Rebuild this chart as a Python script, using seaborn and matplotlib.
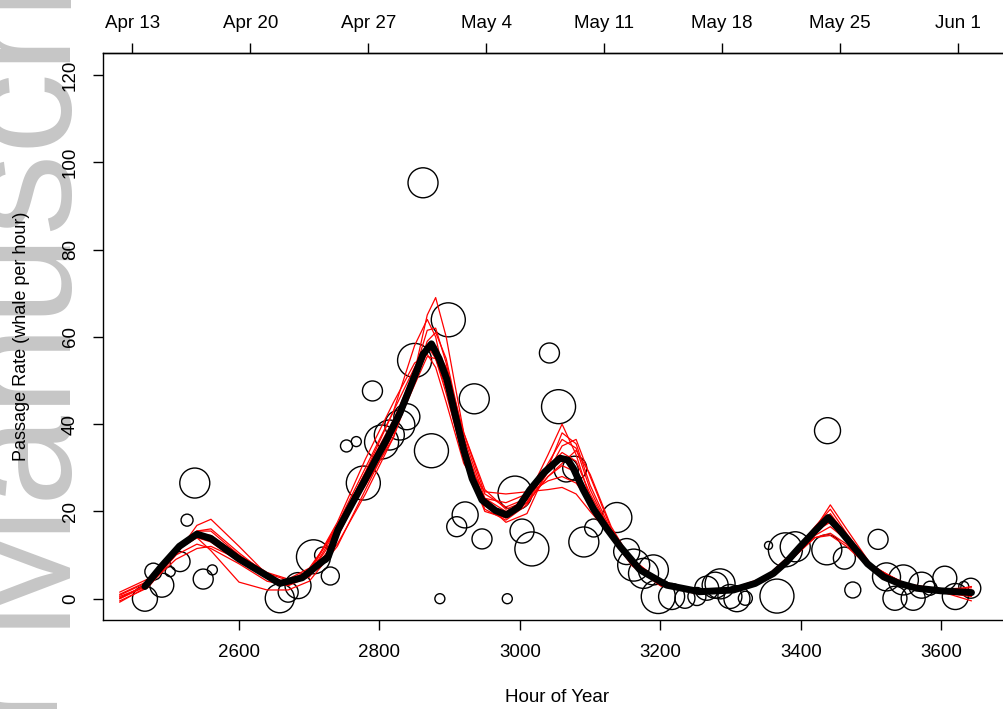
import numpy as np
import pandas as pd
import matplotlib
matplotlib.use("Agg")
import matplotlib.pyplot as plt
import seaborn as sns

# ---------------- data ----------------
obs_hour = [2466, 2478, 2490, 2502, 2516, 2526, 2537, 2549, 2562,
            2658, 2670, 2684, 2706, 2719, 2730,
            2753, 2767, 2777, 2790, 2803, 2814, 2829, 2839, 2850, 2862, 2874,
            2886, 2898, 2910, 2922, 2935, 2946, 2982, 2993, 3003, 3017,
            3042, 3055, 3066, 3078, 3091, 3105, 3138, 3152, 3162, 3176, 3190,
            3197, 3216, 3235, 3252, 3266, 3278, 3285, 3299, 3309, 3321,
            3354, 3366, 3378, 3392, 3437, 3438, 3462, 3474, 3510, 3522, 3534,
            3546, 3560, 3572, 3584, 3605, 3620, 3632, 3642]
obs_rate = [0.0, 6.2, 3.1, 6.2, 8.5, 18.0, 26.5, 4.5, 6.6,
            0.1, 1.5, 3.0, 9.6, 10.0, 5.2,
            35.0, 36.0, 26.5, 47.6, 35.9, 37.5, 39.8, 41.7, 54.6, 95.3, 33.9,
            0.0, 63.9, 16.5, 19.2, 45.8, 13.7, 0.0, 24.2, 15.5, 11.4,
            56.3, 44.0, 29.5, 29.9, 13.0, 16.2, 18.6, 10.8, 7.7, 5.8, 6.6,
            0.5, 0.5, 0.1, 0.5, 2.4, 3.1, 3.4, 0.5, 0.0, 0.1,
            12.2, 0.6, 11.2, 11.9, 11.2, 38.5, 9.3, 2.0, 13.6, 5.0, 0.1,
            4.3, 0.1, 3.1, 2.4, 4.7, 0.5, 2.8, 2.4]
obs_weight = [12.5, 8.5, 12, 5, 10, 6, 15, 10, 5,
              14.5, 10, 13, 17, 8, 9,
              6, 5, 17, 10, 17, 15, 15, 13, 17, 15, 17,
              5, 17, 10, 13, 15, 10, 5, 17, 12, 17,
              10, 17, 12, 12, 15, 9, 15, 13, 16, 15, 15,
              17, 13, 10, 9, 12, 13, 15, 12, 13, 7,
              4, 17, 17, 15, 15, 13, 11, 8, 10, 14, 12,
              15, 12, 13, 7, 12, 13, 5, 10]

mean_hour = [2466, 2490, 2515, 2540, 2560, 2600, 2658, 2690, 2727, 2741, 2760,
             2777, 2795, 2810, 2829, 2850, 2862, 2874, 2885, 2896, 2908, 2920,
             2932, 2946, 2965, 2981, 2998, 3014, 3035, 3057, 3068, 3076, 3090,
             3105, 3124, 3143, 3171, 3209, 3256, 3304, 3335, 3361, 3380, 3399,
             3420, 3439, 3455, 3475, 3495, 3518, 3540, 3565, 3600, 3643]
mean_rate = [2.8, 7.5, 12.0, 14.8, 13.8, 9.1, 3.5, 4.8, 9.6, 15.8, 21.5,
             26.5, 32.0, 36.4, 42.5, 51.0, 56.0, 58.4, 55.0, 50.2, 42.0, 34.1,
             27.5, 22.6, 20.2, 19.2, 21.0, 24.9, 29.0, 32.2, 31.8, 29.9, 25.0,
             20.5, 16.0, 11.9, 6.6, 3.1, 1.6, 2.0, 3.5, 5.8, 8.5, 11.9,
             15.5, 18.6, 15.8, 11.9, 8.0, 5.0, 3.5, 2.4, 1.8, 1.4]

boot_hour = [2430, 2470, 2510, 2540, 2560, 2600, 2640, 2670, 2700, 2740, 2780,
             2820, 2850, 2868, 2880, 2895, 2920, 2950, 2980, 3010, 3040, 3060,
             3080, 3100, 3130, 3160, 3200, 3250, 3300, 3350, 3390, 3420, 3442,
             3465, 3500, 3550, 3600, 3643]
boot_1 = [0.0, 3.0, 10.5, 15.5, 16.0, 10.5, 5.5, 3.5, 5.0, 12.5, 24.0, 37.0, 52.0, 65.0, 69.0, 60.0, 38.0, 24.0, 21.0, 23.0, 33.0, 40.0, 33.0, 23.0, 14.0, 8.0, 3.5, 1.5, 1.8, 4.5, 10.5, 16.5, 20.5, 15.0, 7.5, 3.0, 1.5, 0.8]
boot_2 = [-0.5, 2.5, 10.0, 16.8, 18.2, 12.0, 5.5, 3.2, 5.5, 16.0, 29.0, 43.0, 58.0, 64.0, 60.0, 49.0, 33.0, 21.5, 18.5, 22.0, 30.0, 33.5, 31.5, 24.0, 15.0, 8.5, 3.5, 1.4, 1.6, 4.2, 9.8, 15.0, 19.5, 14.5, 7.5, 3.2, 1.8, 1.2]
boot_3 = [1.0, 4.0, 11.5, 15.5, 15.5, 10.0, 5.0, 3.0, 5.0, 14.0, 27.0, 40.0, 52.0, 61.5, 62.0, 54.0, 36.0, 22.0, 17.5, 19.5, 30.0, 38.0, 35.5, 26.0, 15.5, 8.0, 3.0, 1.2, 1.5, 4.5, 10.5, 16.0, 21.5, 16.0, 7.8, 3.0, 1.4, 0.5]
boot_4 = [0.8, 3.8, 11.0, 14.0, 13.0, 8.5, 4.8, 3.5, 6.0, 17.0, 30.0, 43.0, 53.0, 58.0, 55.0, 47.0, 32.0, 24.5, 24.0, 24.5, 25.0, 25.5, 24.0, 20.0, 14.5, 9.0, 4.0, 2.0, 2.2, 5.0, 10.8, 15.5, 17.5, 13.5, 7.2, 3.2, 2.0, 1.8]
boot_5 = [1.5, 4.5, 11.5, 14.5, 13.5, 9.5, 5.8, 4.2, 6.5, 16.5, 29.0, 41.0, 52.0, 57.5, 58.0, 51.0, 33.0, 20.5, 18.0, 21.5, 29.0, 35.0, 36.5, 28.0, 16.0, 8.5, 3.5, 1.8, 2.0, 4.8, 10.0, 15.0, 18.0, 14.0, 7.5, 3.3, 2.0, 1.5]
boot_6 = [0.5, 3.0, 9.0, 11.5, 12.0, 9.0, 5.0, 3.5, 6.0, 17.5, 32.0, 45.0, 54.0, 56.0, 53.0, 45.0, 31.0, 23.0, 22.0, 24.0, 27.0, 28.0, 26.5, 22.0, 15.0, 9.0, 4.0, 1.9, 1.8, 4.3, 9.5, 14.0, 15.0, 12.5, 7.0, 3.0, 1.8, 1.6]
boot_7 = [0.2, 3.2, 10.0, 12.5, 11.5, 8.0, 4.0, 3.0, 5.5, 15.0, 27.0, 39.0, 50.0, 59.0, 61.0, 55.0, 37.0, 23.0, 20.0, 22.0, 28.0, 31.0, 34.0, 28.5, 16.5, 8.5, 3.2, 1.4, 1.6, 4.2, 9.5, 14.5, 16.5, 13.5, 7.4, 3.4, 2.2, 2.5]
boot_8 = [-0.8, 2.8, 10.5, 15.0, 14.5, 10.0, 6.0, 4.5, 7.0, 16.0, 26.0, 37.0, 50.0, 56.5, 57.5, 53.0, 38.0, 25.0, 20.5, 22.5, 31.0, 36.5, 34.5, 25.0, 15.0, 8.0, 3.0, 1.3, 1.7, 4.6, 10.4, 15.8, 19.0, 14.8, 7.0, 2.8, 1.5, 2.8]
boot_9 = [0.0, 3.5, 11.0, 14.0, 11.0, 3.8, 2.0, 2.0, 4.0, 12.0, 25.0, 38.0, 49.0, 55.5, 55.0, 48.0, 32.0, 20.0, 18.5, 22.0, 28.0, 30.5, 29.0, 23.5, 14.0, 7.5, 3.0, 1.5, 1.8, 4.4, 9.8, 14.0, 14.5, 12.0, 6.8, 3.0, 1.6, -0.5]

date_labels = ["Apr 13", "Apr 20", "Apr 27", "May 4", "May 11", "May 18", "May 25", "Jun 1"]
date_values = ["2013-04-13", "2013-04-20", "2013-04-27", "2013-05-04",
               "2013-05-11", "2013-05-18", "2013-05-25", "2013-06-01"]
y_ticks = [0, 20, 40, 60, 80, 100, 120]
x_ticks = [2600, 2800, 3000, 3200, 3400, 3600]

# ---------------- frames ----------------
obs = pd.DataFrame({"hour": obs_hour, "rate": obs_rate, "weight": obs_weight})
obs["area"] = obs["weight"] ** 2
boots = [boot_1, boot_2, boot_3, boot_4, boot_5, boot_6, boot_7, boot_8, boot_9]
boot_df = pd.concat([pd.DataFrame({"hour": boot_hour, "rate": b, "boot": i})
                     for i, b in enumerate(boots)], ignore_index=True)
mean_df = pd.DataFrame({"hour": mean_hour, "rate": mean_rate})
year_start = pd.Timestamp("2013-01-01")
date_hours = [(pd.Timestamp(d) - year_start).total_seconds() / 3600 for d in date_values]

# ---------------- style ----------------
sns.set_theme(style="white")
plt.rcParams["font.family"] = ["Liberation Sans", "DejaVu Sans"]
plt.rcParams["axes.linewidth"] = 1.0

FS = 13.5
W, H = 1004, 709
fig = plt.figure(figsize=(W / 100, H / 100), dpi=100)
fig.patch.set_facecolor("white")
L, R, T, B = 103, 1012, 53, 620
ax = fig.add_axes([L / W, (H - B) / H, (R - L) / W, (B - T) / H])
ax.set_facecolor("white")

# watermark
wm_color = "#c6c6c6"
wm_x = 58
fig.text(wm_x / W, (H - 627) / H, "Manuscript", rotation=90, rotation_mode="anchor",
         ha="left", va="baseline", fontsize=117, color=wm_color, zorder=-5,
         family="Liberation Sans")
fig.text(wm_x / W, (H - 672) / H, "Author", rotation=90, rotation_mode="anchor",
         ha="right", va="baseline", fontsize=117, color=wm_color, zorder=-5,
         family="Liberation Sans")

sns.scatterplot(data=obs, x="hour", y="rate", size="area", size_norm=(0, 400),
                sizes=(0, 2.0736 * 400), facecolor="none", edgecolor="black",
                linewidth=1.0, legend=False, ax=ax, zorder=2)
sns.lineplot(data=boot_df, x="hour", y="rate", units="boot", estimator=None,
             color="red", lw=0.9, ax=ax, zorder=3, legend=False)
sns.lineplot(data=mean_df, x="hour", y="rate", color="black", lw=5,
             ax=ax, zorder=4, solid_capstyle="round", solid_joinstyle="round")

ax.set_xlim(2406.3, 3700.7)
ax.set_ylim(-4.88, 125.04)
ax.set_xticks(x_ticks)
ax.set_xticklabels([str(t) for t in x_ticks])
ax.set_yticks(y_ticks)
ax.set_yticklabels([str(t) for t in y_ticks], rotation=90, va="center")

for s in ["left", "bottom", "top"]:
    ax.spines[s].set_visible(True)
    ax.spines[s].set_color("black")
    ax.spines[s].set_linewidth(1.0)
ax.spines["right"].set_visible(False)

ax.tick_params(axis="both", which="major", direction="out", length=7.2, width=1.0,
               color="black", labelsize=FS, labelcolor="black", pad=10.0,
               bottom=True, left=True)

top = ax.secondary_xaxis("top")
top.set_xticks(date_hours)
top.set_xticklabels(date_labels)
top.tick_params(direction="out", length=7.2, width=1.0, color="black",
                labelsize=FS, labelcolor="black", pad=8.0)
top.spines["top"].set_linewidth(1.0)

ax.set_xlabel("Hour of Year", fontsize=FS, color="black")
ax.set_ylabel("Passage Rate (whale per hour)", fontsize=13, color="black")
ax.xaxis.set_label_coords(0.5, -(697 - B) / (B - T))
ax.xaxis.label.set_va("center")
ax.yaxis.set_label_coords((21 - L) / (R - L), 0.5)
ax.yaxis.label.set_va("center")

fig.savefig("out.png", dpi=100, facecolor="white")
